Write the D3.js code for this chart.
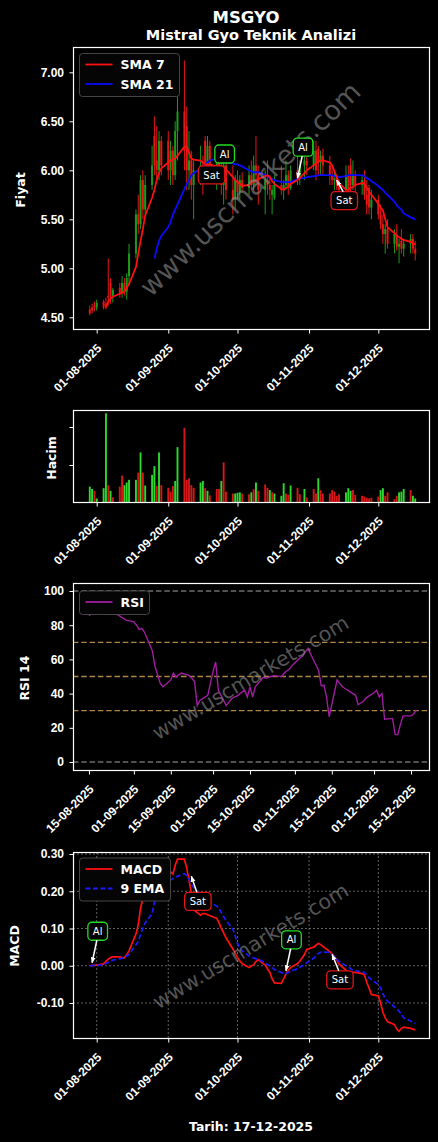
<!DOCTYPE html>
<html>
<head>
<meta charset="utf-8">
<title>MSGYO Teknik Analiz</title>
<style>
  body { margin: 0; background: #000; }
  svg { display: block; font-family: "DejaVu Sans", sans-serif; }
  .tick text { font-weight: bold; font-size: 12px; fill: #fff; }
  .tick line { stroke: #fff; }
  .domain { display: none; }
</style>
<script src="https://d3js.org/d3.v7.min.js"></script>
</head>
<body>
<svg id="chart" width="438" height="1142"></svg>
<script>
// ---- data ----
const tarihler = [
  "2025-07-29","2025-07-30","2025-07-31",
  "2025-08-01","2025-08-04","2025-08-05","2025-08-06","2025-08-07","2025-08-08","2025-08-11","2025-08-12","2025-08-13","2025-08-14","2025-08-15",
  "2025-08-18","2025-08-19","2025-08-20","2025-08-21","2025-08-22","2025-08-25","2025-08-26","2025-08-27","2025-08-28","2025-08-29",
  "2025-09-01","2025-09-02","2025-09-03","2025-09-04","2025-09-05","2025-09-08","2025-09-09","2025-09-10","2025-09-11","2025-09-12",
  "2025-09-15","2025-09-16","2025-09-17","2025-09-18","2025-09-19","2025-09-22","2025-09-23","2025-09-24","2025-09-25","2025-09-26",
  "2025-09-29","2025-09-30","2025-10-01","2025-10-02","2025-10-03","2025-10-06","2025-10-07","2025-10-08","2025-10-09","2025-10-10",
  "2025-10-13","2025-10-14","2025-10-15","2025-10-16","2025-10-17","2025-10-20","2025-10-21","2025-10-22","2025-10-23","2025-10-24",
  "2025-10-27","2025-10-28","2025-10-30","2025-10-31","2025-11-03","2025-11-04","2025-11-05","2025-11-06","2025-11-07","2025-11-10",
  "2025-11-11","2025-11-12","2025-11-13","2025-11-14","2025-11-17","2025-11-18","2025-11-19","2025-11-20","2025-11-21","2025-11-24",
  "2025-11-25","2025-11-26","2025-11-27","2025-11-28","2025-12-01","2025-12-02","2025-12-03","2025-12-04","2025-12-05","2025-12-08",
  "2025-12-09","2025-12-10","2025-12-11","2025-12-12","2025-12-15","2025-12-16","2025-12-17"
];

const acilis = [
  4.58,4.60,4.62,4.60,4.66,4.64,4.72,4.85,4.72,4.80,
  4.76,4.85,4.76,4.92,5.15,5.55,5.45,5.90,5.60,5.85,
  6.35,6.10,6.00,6.30,6.30,6.00,6.20,5.95,6.40,6.60,
  6.45,6.00,6.10,5.85,6.00,6.05,6.30,6.00,6.25,6.00,
  6.10,6.00,5.85,6.05,5.80,5.70,5.90,5.78,5.90,5.82,
  5.95,5.85,6.05,5.95,5.80,5.90,5.85,5.75,5.72,5.85,
  5.80,5.85,5.95,5.82,6.00,5.92,6.05,6.10,6.05,6.20,
  6.22,6.08,6.15,6.05,5.95,5.90,5.92,5.85,5.80,5.95,
  6.05,5.85,5.95,5.85,5.90,5.75,5.82,5.62,5.70,5.55,
  5.45,5.35,5.40,5.25,5.35,5.22,5.28,5.20,5.25,5.30,
  5.20
];
const yuksek = [
  4.62,4.64,4.66,4.68,4.68,4.70,5.10,4.90,4.80,4.85,
  4.92,4.90,4.95,5.25,5.60,5.75,5.95,6.00,5.95,6.25,
  6.55,6.45,6.40,6.35,6.40,6.30,6.25,6.50,7.00,7.12,
  6.65,6.40,6.20,6.10,6.25,6.15,6.35,6.35,6.30,6.20,
  6.25,6.10,6.15,6.10,6.05,5.95,6.00,5.95,5.98,6.05,
  6.10,6.15,6.35,6.05,6.00,6.10,5.95,5.85,5.95,6.05,
  5.90,6.10,6.00,6.05,6.20,6.10,6.15,6.25,6.30,6.30,
  6.25,6.20,6.22,6.15,6.05,6.00,5.95,5.90,6.05,6.05,
  6.12,6.10,6.00,5.95,6.00,5.90,5.85,5.80,5.75,5.65,
  5.55,5.45,5.50,5.40,5.45,5.30,5.40,5.30,5.35,5.35,
  5.28
];
const dusuk = [
  4.52,4.54,4.56,4.57,4.58,4.58,4.62,4.64,4.65,4.70,
  4.70,4.72,4.68,4.85,5.10,5.35,5.40,5.50,5.55,5.80,
  5.95,5.90,5.90,5.95,5.90,5.85,5.85,5.90,6.10,6.00,
  5.80,5.80,5.70,5.50,5.85,5.75,5.90,5.95,5.90,5.80,
  5.95,5.75,5.65,5.70,5.55,5.60,5.70,5.70,5.78,5.75,
  5.80,5.80,5.85,5.65,5.55,5.75,5.70,5.55,5.70,5.75,
  5.70,5.80,5.75,5.80,5.85,5.85,5.90,5.95,6.00,5.90,
  5.95,5.95,5.95,5.85,5.85,5.80,5.80,5.75,5.75,5.70,
  5.75,5.80,5.75,5.75,5.70,5.55,5.55,5.50,5.50,5.40,
  5.25,5.15,5.20,5.15,5.18,5.05,5.15,5.12,5.15,5.15,
  5.08
];
const kapanis = [
  4.54,4.57,4.60,4.65,4.60,4.62,4.70,4.72,4.78,4.74,
  4.85,4.76,4.90,5.15,5.55,5.45,5.90,5.60,5.85,6.05,
  6.05,6.00,6.30,6.05,6.00,6.20,5.95,6.40,6.60,6.20,
  6.00,6.10,5.85,6.00,6.05,5.95,6.00,6.25,6.00,6.10,
  6.00,5.85,6.05,5.80,5.70,5.90,5.78,5.90,5.82,5.95,
  5.85,6.05,5.95,5.80,5.90,5.85,5.80,5.80,5.85,5.80,
  5.85,5.95,5.82,6.00,5.92,6.05,6.10,6.05,6.20,6.00,
  6.08,6.15,6.05,5.95,5.90,5.92,5.85,5.80,5.95,5.80,
  5.85,5.95,5.85,5.90,5.75,5.65,5.62,5.70,5.55,5.45,
  5.35,5.40,5.25,5.35,5.22,5.25,5.20,5.25,5.30,5.20,
  5.15
];

const sma7 = [
  null,null,null,null,null,4.60,4.66,4.69,4.71,4.74,
  4.75,4.76,4.80,4.84,5.01,5.15,5.28,5.40,5.54,5.72,
  5.80,5.90,5.97,6.02,6.08,6.10,6.11,6.12,6.15,6.24,
  6.24,6.18,6.12,6.11,6.10,6.08,6.06,6.06,6.06,6.04,
  6.05,6.04,6.03,6.01,5.93,5.90,5.88,5.86,5.84,5.85,
  5.87,5.88,5.90,5.91,5.94,5.95,5.93,5.89,5.86,5.81,
  5.80,5.82,5.83,5.86,5.90,5.92,5.97,6.00,6.05,6.07,
  6.09,6.10,6.10,6.08,6.05,5.99,5.93,5.87,5.80,5.80,
  5.82,5.83,5.85,5.87,5.86,5.82,5.78,5.75,5.66,5.62,
  5.59,5.50,5.42,5.36,5.33,5.32,5.30,5.29,5.27,5.26,
  5.24
];
const sma21 = [
  null,null,null,null,null,null,null,null,null,null,
  null,null,null,null,null,null,null,null,null,null,
  5.10,5.20,5.28,5.33,5.42,5.47,5.55,5.60,5.65,5.81,
  5.86,5.90,5.95,5.97,6.02,6.03,6.06,6.08,6.10,6.12,
  6.11,6.10,6.09,6.08,6.07,6.06,6.06,6.05,6.04,6.00,
  5.99,5.98,5.98,5.98,5.95,5.94,5.92,5.91,5.90,5.88,
  5.88,5.88,5.88,5.88,5.91,5.92,5.92,5.93,5.94,5.94,
  5.95,5.95,5.95,5.95,5.95,5.94,5.94,5.93,5.94,5.95,
  5.95,5.95,5.95,5.95,5.94,5.92,5.91,5.89,5.84,5.82,
  5.80,5.77,5.75,5.68,5.64,5.62,5.60,5.56,5.52,5.51,
  5.50
];

const hacim = [
  0.43,0.37,0.32,0.12,0.39,2.36,0.47,0.32,0.15,0.43,
  0.72,0.47,0.54,0.61,0.61,0.80,1.33,0.80,0.46,0.74,
  0.97,0.45,1.33,0.47,0.40,0.30,0.45,0.58,1.47,1.98,
  0.61,0.65,0.47,0.40,0.54,0.58,0.39,0.32,0.20,0.37,
  0.37,0.58,1.07,0.30,0.25,0.25,0.27,0.28,0.25,0.23,
  0.28,0.36,0.54,0.32,0.49,0.40,0.34,0.28,0.25,0.19,
  0.52,0.25,0.21,0.46,0.40,0.23,0.37,0.15,0.37,0.25,
  0.65,0.34,0.25,0.25,0.34,0.30,0.19,0.23,0.28,0.39,
  0.32,0.34,0.21,0.19,0.17,0.14,0.12,0.14,0.17,0.34,
  0.39,0.19,0.28,0.10,0.19,0.28,0.30,0.37,0.34,0.19,
  0.12
];
// 1 = yukari (yesil), 0 = asagi (kirmizi)
const hacimYon = [
  1,1,0,1,1,1,0,1,0,0,
  0,1,1,1,1,0,1,0,1,1,
  1,0,1,0,0,0,0,1,1,0,
  0,0,0,0,1,1,0,1,0,0,
  0,1,0,0,0,1,1,1,0,0,
  1,0,1,0,0,0,1,0,1,1,
  1,0,0,1,0,0,1,0,0,0,
  1,0,0,0,0,0,0,0,1,1,
  1,0,0,0,0,0,0,0,0,1,
  1,0,0,0,0,1,1,1,0,1,
  1
];

const rsi = [
  null,null,null,null,null,null,null,null,null,null,
  null,null,null,85.5,89.5,88.5,89.5,86.5,86.6,86.6,
  86.0,85.0,84.0,83.0,82.0,80.0,77.5,78.0,76.0,65.0,
  56.0,51.0,46.0,44.0,48.0,52.0,49.5,51.0,52.0,50.5,
  49.0,47.0,33.0,36.0,39.0,46.0,53.0,58.5,42.0,33.0,
  35.0,37.0,38.0,38.5,42.0,38.0,44.0,38.0,44.0,49.5,
  49.0,49.5,50.0,50.5,50.0,52.0,54.5,56.5,61.0,62.0,
  64.5,66.5,63.0,53.5,44.5,45.0,38.0,26.5,48.0,46.0,
  44.0,43.0,42.0,39.0,33.5,34.5,35.5,37.5,40.5,42.0,
  38.0,40.0,25.0,25.5,16.0,16.0,22.0,27.0,27.0,28.0,
  30.5
];

const macd = [
  0.000,0.001,0.001,0.002,0.005,0.012,0.018,0.022,0.024,0.024,
  0.022,0.021,0.030,0.040,0.085,0.110,0.155,0.180,0.205,0.262,
  0.270,0.273,0.272,0.270,0.258,0.252,0.246,0.270,0.286,0.286,
  0.262,0.230,0.195,0.150,0.136,0.140,0.140,0.137,0.135,0.127,
  0.115,0.100,0.088,0.075,0.045,0.034,0.022,0.013,0.006,-0.005,
  -0.001,0.003,0.012,0.016,0.002,-0.008,-0.018,-0.035,-0.046,-0.047,
  -0.035,-0.022,-0.012,-0.005,0.006,0.012,0.030,0.044,0.050,0.055,
  0.060,0.057,0.052,0.038,0.032,0.024,0.016,0.005,-0.012,-0.016,
  -0.018,-0.018,-0.018,-0.021,-0.025,-0.045,-0.060,-0.077,-0.081,-0.100,
  -0.125,-0.140,-0.150,-0.158,-0.170,-0.176,-0.168,-0.165,-0.168,-0.170,
  -0.172
];
const sinyal = [
  0.000,0.000,0.001,0.001,0.003,0.006,0.009,0.012,0.015,0.019,
  0.020,0.022,0.026,0.030,0.056,0.065,0.085,0.100,0.115,0.140,
  0.170,0.190,0.200,0.210,0.225,0.230,0.234,0.237,0.240,0.247,
  0.243,0.232,0.220,0.210,0.192,0.185,0.180,0.176,0.172,0.160,
  0.154,0.143,0.132,0.122,0.098,0.080,0.060,0.048,0.040,0.026,
  0.023,0.021,0.019,0.018,0.008,0.003,0.000,-0.005,-0.010,-0.018,
  -0.021,-0.021,-0.018,-0.015,-0.008,-0.004,0.003,0.008,0.020,0.027,
  0.033,0.036,0.037,0.036,0.030,0.024,0.018,0.012,0.000,-0.003,
  -0.008,-0.012,-0.014,-0.016,-0.018,-0.025,-0.032,-0.038,-0.050,-0.060,
  -0.075,-0.088,-0.095,-0.110,-0.115,-0.122,-0.130,-0.140,-0.148,-0.152,
  -0.155
];

// al / sat isaretleri: gun indeksi, isaret edilen deger, etiket
const fiyatSinyalGun = [37, 41, 64, 76];
const fiyatSinyalDeger = [6.08, 6.09, 5.92, 5.90];
const fiyatSinyalEtiket = ["Sat", "Al", "Al", "Sat"];
const macdSinyalGun = [1, 32, 61, 74];
const macdSinyalDeger = [0.008, 0.24, -0.0135, 0.030];
const macdSinyalEtiket = ["Al", "Sat", "Al", "Sat"];

const anaTikler = ["2025-08-01","2025-09-01","2025-10-01","2025-11-01","2025-12-01"];
const rsiTikler = ["2025-08-15","2025-09-01","2025-09-15","2025-10-01","2025-10-15","2025-11-01","2025-11-15","2025-12-01","2025-12-15"];
const fiyatYTik = [4.5, 5.0, 5.5, 6.0, 6.5, 7.0];
const hacimYTik = [1, 2];
const rsiYTik = [0, 20, 40, 60, 80, 100];
const macdYTik = [-0.1, 0.0, 0.1, 0.2, 0.3];
const rsiCizgileri = [0, 30, 50, 70, 100];

// ---- drawing ----
const svg = d3.select("#chart");
svg.append("rect").attr("width", 438).attr("height", 1142).attr("fill", "#000");

const parse = d3.timeParse("%Y-%m-%d");
const gunler = tarihler.map(parse);
const fmtTarih = d3.timeFormat("%d-%m-%Y");

const X0 = 73, X1 = 430;
const P = {
  fiyat: { y0: 47, y1: 330 },
  hacim: { y0: 410, y1: 503 },
  rsi:   { y0: 583, y1: 771 },
  macd:  { y0: 852, y1: 1039 }
};

const xAna = d3.scaleTime().domain([parse("2025-08-01"), parse("2025-12-01")]).range([96.7, 378.3]);
const xRsi = d3.scaleTime().domain([parse("2025-08-15"), parse("2025-12-15")]).range([89, 411]);
const yFiyat = d3.scaleLinear().domain([4.5, 7.0]).range([317.3, 72.3]);
const yHacim = d3.scaleLinear().domain([0, 2]).range([503, 427]);
const yRsi = d3.scaleLinear().domain([0, 100]).range([762, 591]);
const yMacd = d3.scaleLinear().domain([-0.1, 0.3]).range([1003, 854]);

const YESIL = "#1a9a1a", KIRMIZI = "#e81515", HACIM_YESIL = "#33ee33", HACIM_KIRMIZI = "#ee1a1a";

const defs = svg.append("defs");
Object.entries(P).forEach(([k, p]) => {
  defs.append("clipPath").attr("id", "clip-" + k)
    .append("rect").attr("x", X0).attr("y", p.y0).attr("width", X1 - X0).attr("height", p.y1 - p.y0);
});
defs.append("marker").attr("id", "ok").attr("viewBox", "0 0 10 10")
  .attr("refX", 9).attr("refY", 5).attr("markerWidth", 6).attr("markerHeight", 6)
  .attr("markerUnits", "userSpaceOnUse").attr("orient", "auto")
  .append("path").attr("d", "M0,1 L10,5 L0,9 z").attr("fill", "#fff");

function yEksen(y, ticks, fmt) {
  svg.append("g").attr("transform", `translate(${X0},0)`)
    .call(d3.axisLeft(y).tickValues(ticks).tickSize(3.5).tickPadding(5.5).tickFormat(fmt));
}
function xEksen(x, ticks, yAlt) {
  const g = svg.append("g").attr("transform", `translate(0,${yAlt})`)
    .call(d3.axisBottom(x).tickValues(ticks.map(parse)).tickSize(3.5).tickFormat(fmtTarih));
  g.selectAll(".tick text")
    .attr("x", 0).attr("y", 0).attr("dy", "0.35em")
    .attr("text-anchor", "end")
    .attr("transform", "translate(2,16) rotate(-45)");
}
function cerceve(p) {
  svg.append("rect").attr("x", X0 + 0.5).attr("y", p.y0 + 0.5)
    .attr("width", X1 - X0 - 1).attr("height", p.y1 - p.y0 - 1)
    .attr("fill", "none").attr("stroke", "#fff").attr("stroke-width", 1.2);
}
function yEtiket(text, x, y) {
  svg.append("text").attr("transform", `translate(${x},${y}) rotate(-90)`)
    .attr("text-anchor", "middle").attr("dy", "0.35em")
    .attr("fill", "#fff").attr("font-weight", "bold").attr("font-size", 12.5).text(text);
}
function filigran(cx, cy, aci, boyut) {
  svg.append("text").attr("transform", `translate(${cx},${cy}) rotate(${aci})`)
    .attr("text-anchor", "middle").attr("dy", "0.35em")
    .attr("fill", "#8c8c8c").attr("opacity", 0.6).attr("font-size", boyut)
    .text("www.uscmarkets.com");
}
function lejant(x, y, w, satirlar) {
  const g = svg.append("g");
  g.append("rect").attr("x", x).attr("y", y).attr("width", w).attr("height", satirlar.length * 19.5 + 4)
    .attr("rx", 3).attr("fill", "#050505").attr("stroke", "#555").attr("stroke-width", 0.8);
  satirlar.forEach((s, i) => {
    const yy = y + 11 + i * 19.5;
    g.append("line").attr("x1", x + 6).attr("x2", x + 33).attr("y1", yy).attr("y2", yy)
      .attr("stroke", s.renk).attr("stroke-width", 1.8).attr("stroke-dasharray", s.kesik ? "5,2.5" : null);
    g.append("text").attr("x", x + 41).attr("y", yy).attr("dy", "0.36em")
      .attr("fill", "#fff").attr("font-weight", "bold").attr("font-size", 12.5).text(s.ad);
  });
}
function rozet(tx, ty, dx, dy, etiket) {
  const cx = tx + dx, cy = ty + dy;
  const renk = etiket === "Al" ? "#22dd22" : "#e01515";
  const g = svg.append("g");
  const t = g.append("text").attr("x", cx).attr("y", cy).attr("dy", "0.36em")
    .attr("text-anchor", "middle").attr("fill", "#fff").attr("font-size", 10).text(etiket);
  const w = t.node().getComputedTextLength() + 10, h = 18;
  g.insert("rect", "text").attr("x", cx - w / 2).attr("y", cy - h / 2).attr("width", w).attr("height", h)
    .attr("rx", 4).attr("fill", "#000").attr("stroke", renk).attr("stroke-width", 1.3);
  const ey = dy < 0 ? cy + h / 2 : cy - h / 2;
  if (Math.abs(ty - ey) > 6 && (ty > cy + h / 2 || ty < cy - h / 2)) {
    g.append("line").attr("x1", cx + (tx - cx) * 0.15).attr("y1", ey).attr("x2", tx).attr("y2", ty)
      .attr("stroke", "#fff").attr("stroke-width", 1.5).attr("marker-end", "url(#ok)");
  }
}

// titles
svg.append("text").attr("x", 246).attr("y", 22.5).attr("text-anchor", "middle")
  .attr("fill", "#fff").attr("font-weight", "bold").attr("font-size", 16.5).text("MSGYO");
svg.append("text").attr("x", 251).attr("y", 39.5).attr("text-anchor", "middle")
  .attr("fill", "#fff").attr("font-weight", "bold").attr("font-size", 14.5).text("Mistral Gyo Teknik Analizi");

// ---- price panel ----
const gF = svg.append("g").attr("clip-path", "url(#clip-fiyat)");
gunler.forEach((d, i) => {
  const up = kapanis[i] >= acilis[i];
  const c = up ? YESIL : KIRMIZI;
  const x = xAna(d);
  gF.append("line").attr("x1", x).attr("x2", x).attr("y1", yFiyat(yuksek[i])).attr("y2", yFiyat(dusuk[i]))
    .attr("stroke", c).attr("stroke-width", 1);
  const yt = yFiyat(Math.max(acilis[i], kapanis[i])), yb = yFiyat(Math.min(acilis[i], kapanis[i]));
  gF.append("rect").attr("x", x - 1).attr("width", 2).attr("y", yt).attr("height", Math.max(0.8, yb - yt)).attr("fill", c);
});
const cizgiF = seri => d3.line().defined(d => d[1] != null)
  .x(d => xAna(d[0])).y(d => yFiyat(d[1]))(gunler.map((d, i) => [d, seri[i]]));
gF.append("path").attr("d", cizgiF(sma21)).attr("fill", "none").attr("stroke", "#0a0aff").attr("stroke-width", 1.8);
gF.append("path").attr("d", cizgiF(sma7)).attr("fill", "none").attr("stroke", "#ff1010").attr("stroke-width", 1.8);
filigran(250, 189, -44, 27);
const fiyatOfset = [[4, 12.5], [3.3, -7.5], [5.5, -31], [7.5, 20.5]];
fiyatSinyalGun.forEach((gi, k) => {
  rozet(xAna(gunler[gi]), yFiyat(fiyatSinyalDeger[k]), fiyatOfset[k][0], fiyatOfset[k][1], fiyatSinyalEtiket[k]);
});
lejant(79.5, 53.5, 100, [{ ad: "SMA 7", renk: "#ff1010" }, { ad: "SMA 21", renk: "#0a0aff" }]);
cerceve(P.fiyat);
yEksen(yFiyat, fiyatYTik, d => d.toFixed(2));
xEksen(xAna, anaTikler, P.fiyat.y1);
yEtiket("Fiyat", 21, 190);

// ---- volume panel ----
const gH = svg.append("g").attr("clip-path", "url(#clip-hacim)");
gunler.forEach((d, i) => {
  gH.append("rect").attr("x", xAna(d) - 0.95).attr("width", 1.9)
    .attr("y", yHacim(hacim[i])).attr("height", yHacim(0) - yHacim(hacim[i]))
    .attr("fill", hacimYon[i] ? HACIM_YESIL : HACIM_KIRMIZI).attr("opacity", 0.9);
});
cerceve(P.hacim);
yEksen(yHacim, hacimYTik, () => "");
xEksen(xAna, anaTikler, P.hacim.y1);
yEtiket("Hacim", 52, 458);

// ---- RSI panel ----
const gR = svg.append("g").attr("clip-path", "url(#clip-rsi)");
rsiCizgileri.forEach(v => {
  const kenar = v === 0 || v === 100;
  gR.append("line").attr("x1", X0).attr("x2", X1).attr("y1", yRsi(v)).attr("y2", yRsi(v))
    .attr("stroke", kenar ? "#808080" : "#c0954a").attr("stroke-width", 1.3)
    .attr("stroke-dasharray", "5.5,2.8").attr("opacity", kenar ? 0.85 : 0.9);
});
gR.append("path")
  .attr("d", d3.line().defined(d => d[1] != null).x(d => xRsi(d[0])).y(d => yRsi(d[1]))(gunler.map((d, i) => [d, rsi[i]])))
  .attr("fill", "none").attr("stroke", "#a01ca0").attr("stroke-width", 1.4);
filigran(250.5, 677.5, -30.5, 20.5);
lejant(79.5, 591, 70, [{ ad: "RSI", renk: "#a01ca0" }]);
cerceve(P.rsi);
yEksen(yRsi, rsiYTik, d => String(d));
xEksen(xRsi, rsiTikler, P.rsi.y1);
yEtiket("RSI 14", 25, 678);

// ---- MACD panel ----
const gM = svg.append("g").attr("clip-path", "url(#clip-macd)");
anaTikler.map(parse).forEach(d => {
  gM.append("line").attr("x1", xAna(d)).attr("x2", xAna(d)).attr("y1", P.macd.y0).attr("y2", P.macd.y1)
    .attr("stroke", "#8a8a8a").attr("stroke-width", 0.7).attr("stroke-dasharray", "2,2");
});
macdYTik.forEach(v => {
  gM.append("line").attr("x1", X0).attr("x2", X1).attr("y1", yMacd(v)).attr("y2", yMacd(v))
    .attr("stroke", "#8a8a8a").attr("stroke-width", 0.7).attr("stroke-dasharray", "2,2");
});
const cizgiM = seri => d3.line().x((d, i) => xAna(gunler[i])).y(d => yMacd(d))(seri);
gM.append("path").attr("d", cizgiM(macd)).attr("fill", "none").attr("stroke", "#ff1010").attr("stroke-width", 1.7);
gM.append("path").attr("d", cizgiM(sinyal)).attr("fill", "none").attr("stroke", "#1a1aff")
  .attr("stroke-width", 1.7).attr("stroke-dasharray", "5,2.5");
filigran(250.5, 946, -31, 20.5);
const macdOfset = [[5.6, -31.5], [6.5, 25], [5.5, -31], [7.8, 25.2]];
macdSinyalGun.forEach((gi, k) => {
  rozet(xAna(gunler[gi]), yMacd(macdSinyalDeger[k]), macdOfset[k][0], macdOfset[k][1], macdSinyalEtiket[k]);
});
lejant(79.5, 858, 91, [{ ad: "MACD", renk: "#ff1010" }, { ad: "9 EMA", renk: "#1a1aff", kesik: true }]);
cerceve(P.macd);
yEksen(yMacd, macdYTik, d => d.toFixed(2));
xEksen(xAna, anaTikler, P.macd.y1);
yEtiket("MACD", 15, 946);

svg.append("text").attr("x", 251).attr("y", 1131).attr("text-anchor", "middle")
  .attr("fill", "#fff").attr("font-weight", "bold").attr("font-size", 12.5).text("Tarih: 17-12-2025");
</script>
</body>
</html>
